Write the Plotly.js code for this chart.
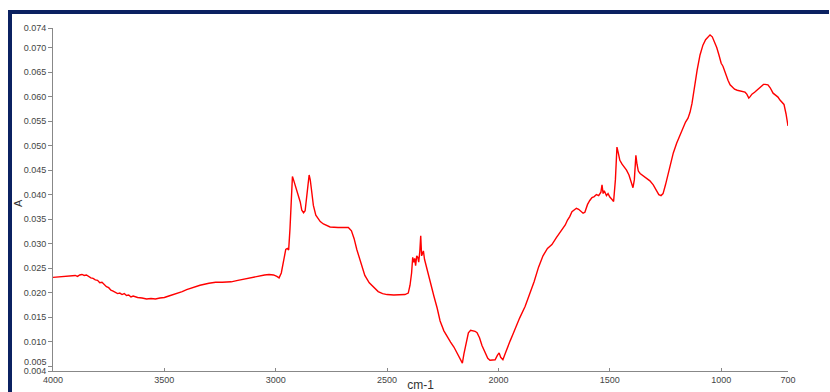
<!DOCTYPE html>
<html>
<head>
<meta charset="utf-8">
<script src="https://cdn.plot.ly/plotly-3.0.1.min.js"></script>
<style>
  html, body { margin: 0; padding: 0; background: #ffffff; }
  #wrap { position: relative; width: 830px; height: 392px; overflow: hidden; }
  #chart { position: absolute; left: 0; top: 0; width: 830px; height: 392px; }
  #frameTop { position: absolute; left: 8px; top: 10px; width: 821px; height: 4px; background: #0b2161; }
  #frameLeft { position: absolute; left: 8px; top: 10px; width: 4px; height: 382px; background: #0b2161; }
</style>
</head>
<body>
<div id="wrap">
  <div id="chart"></div>
  <div id="frameTop"></div>
  <div id="frameLeft"></div>
</div>
<script>
const wavenumber = [
  4000,3980,3960,3940,3920,3900,3890,3880,3870,3860,3850,3840,3830,3820,3810,3800,3790,3780,3770,3760,
  3750,3740,3730,3720,3710,3700,3690,3680,3670,3660,3650,3640,3620,3600,3580,3560,3540,3520,3500,3480,
  3450,3420,3400,3370,3340,3300,3270,3240,3200,3170,3140,3100,3070,3050,3030,3010,2995,2985,2975,2968,
  2960,2955,2948,2942,2936,2930,2925,2920,2913,2905,2898,2890,2883,2875,2868,2861,2855,2850,2845,2840,
  2831,2820,2810,2800,2786,2770,2756,2720,2690,2674,2660,2648,2636,2620,2600,2580,2560,2540,2520,2500,
  2470,2440,2420,2405,2397,2390,2385,2380,2376,2372,2367,2362,2358,2353,2349,2345,2341,2337,2332,2327,
  2320,2313,2303,2290,2275,2262,2245,2230,2215,2200,2186,2175,2168,2162,2155,2145,2135,2125,2115,2105,
  2096,2085,2074,2060,2048,2038,2025,2015,2005,1997,1990,1980,1970,1960,1948,1935,1926,1905,1880,1860,
  1840,1820,1800,1780,1760,1740,1720,1700,1690,1680,1670,1660,1650,1640,1630,1620,1612,1600,1590,1580,
  1570,1560,1550,1540,1535,1530,1525,1515,1508,1500,1490,1483,1475,1468,1462,1455,1445,1437,1425,1414,
  1405,1396,1390,1383,1378,1372,1364,1350,1342,1330,1320,1305,1290,1280,1270,1261,1250,1240,1230,1215,
  1200,1185,1170,1160,1149,1140,1131,1120,1108,1095,1082,1070,1060,1050,1040,1030,1020,1010,1000,992,
  980,969,960,951,940,928,915,900,893,885,876,870,862,850,840,830,820,810,803,790,
  780,767,756,745,736,728,718,709,700
];
const absorbance = [
  0.0231,0.0232,0.0233,0.0233,0.0234,0.0235,0.0233,0.0236,0.0237,0.0235,0.0236,0.0232,0.0230,0.0229,0.0226,0.0225,0.0220,0.0221,0.0216,0.0212,
  0.0210,0.0205,0.0203,0.0200,0.0198,0.0199,0.0196,0.0198,0.0194,0.0195,0.0191,0.0193,0.0190,0.0189,0.0187,0.0188,0.0187,0.0189,0.0190,0.0193,
  0.0197,0.0202,0.0206,0.0211,0.0215,0.0219,0.0221,0.0221,0.0222,0.0225,0.0228,0.0231,0.0234,0.0236,0.0237,0.0236,0.0233,0.0230,0.0240,0.0258,
  0.0275,0.0288,0.0290,0.0287,0.0330,0.0400,0.0437,0.0430,0.0420,0.0410,0.0400,0.0385,0.0368,0.0363,0.0367,0.0390,0.0420,0.0440,0.0430,0.0412,
  0.0378,0.0358,0.0350,0.0345,0.0340,0.0337,0.0334,0.0333,0.0333,0.0333,0.0326,0.0310,0.0288,0.0262,0.0235,0.0220,0.0210,0.0202,0.0198,0.0196,
  0.0195,0.0195,0.0196,0.0199,0.0215,0.0240,0.0272,0.0262,0.0270,0.0255,0.0275,0.0272,0.0262,0.0285,0.0316,0.0275,0.0283,0.0285,0.0268,0.0259,
  0.0242,0.0230,0.0213,0.0193,0.0168,0.0142,0.0122,0.0109,0.0099,0.0089,0.0077,0.0068,0.0062,0.0056,0.0075,0.0100,0.0118,0.0123,0.0122,0.0121,
  0.0118,0.0108,0.0092,0.0078,0.0066,0.0062,0.0062,0.0063,0.0072,0.0077,0.0068,0.0063,0.0075,0.0088,0.0101,0.0115,0.0126,0.0148,0.0172,0.0195,
  0.0222,0.0252,0.0275,0.0290,0.0298,0.0312,0.0325,0.0338,0.0348,0.0355,0.0365,0.0368,0.0372,0.0370,0.0366,0.0362,0.0364,0.0380,0.0388,0.0394,
  0.0396,0.0400,0.0398,0.0405,0.0420,0.0402,0.0408,0.0398,0.0402,0.0395,0.0390,0.0386,0.0430,0.0497,0.0485,0.0470,0.0462,0.0458,0.0450,0.0440,
  0.0425,0.0414,0.0430,0.0480,0.0462,0.0448,0.0443,0.0438,0.0436,0.0432,0.0428,0.0420,0.0408,0.0400,0.0398,0.0402,0.0420,0.0440,0.0460,0.0485,
  0.0505,0.0522,0.0537,0.0548,0.0556,0.0568,0.0586,0.0620,0.0654,0.0685,0.0705,0.0716,0.0722,0.0726,0.0722,0.0712,0.0700,0.0685,0.0668,0.0662,
  0.0645,0.0633,0.0624,0.0619,0.0615,0.0613,0.0611,0.0610,0.0609,0.0605,0.0597,0.0600,0.0605,0.0609,0.0613,0.0616,0.0620,0.0625,0.0625,0.0624,
  0.0618,0.0607,0.0603,0.0599,0.0593,0.0589,0.0584,0.0565,0.0540
];
const xTickVals = [4000, 3500, 3000, 2500, 2000, 1500, 1000, 700];
const xTickText = ["4000", "3500", "3000", "2500", "2000", "1500", "1000", "700"];
const yTickVals = [0.004, 0.005, 0.010, 0.015, 0.020, 0.025, 0.030, 0.035, 0.040, 0.045, 0.050, 0.055, 0.060, 0.065, 0.070, 0.074];
const yTickText = ["0.004", "", "0.010", "0.015", "0.020", "0.025", "0.030", "0.035", "0.040", "0.045", "0.050", "0.055", "0.060", "0.065", "0.070", "0.074"];
const raisedTickValue = 0.005;
const raisedTickText = "0.005";
const yTitleText = "A";

const trace = {
  x: wavenumber,
  y: absorbance,
  type: 'scatter',
  mode: 'lines',
  line: { color: '#ff0000', width: 1.4 },
  hoverinfo: 'x+y'
};

const layout = {
  width: 830,
  height: 392,
  margin: { l: 53, r: 42, t: 28, b: 21, pad: 0 },
  paper_bgcolor: '#ffffff',
  plot_bgcolor: '#ffffff',
  showlegend: false,
  font: { family: 'Liberation Sans, Arial, sans-serif', size: 9, color: '#444444' },
  xaxis: {
    range: [4000, 700],
    autorange: false,
    tickmode: 'array',
    tickvals: xTickVals,
    ticktext: xTickText,
    ticks: 'inside',
    ticklen: 3,
    tickcolor: '#888888',
    showgrid: false,
    zeroline: false,
    showline: true,
    linecolor: '#888888',
    linewidth: 1,
    tickfont: { size: 9, color: '#444444' },
    automargin: false,
    title: { text: 'cm-1', font: { size: 12, color: '#333333' }, standoff: 1 }
  },
  yaxis: {
    range: [0.004, 0.074],
    autorange: false,
    tickmode: 'array',
    tickvals: yTickVals,
    ticktext: yTickText,
    ticks: 'outside',
    ticklen: 4,
    tickcolor: '#888888',
    showgrid: false,
    zeroline: false,
    showline: true,
    linecolor: '#888888',
    linewidth: 1,
    tickfont: { size: 9, color: '#444444' },
    automargin: false
  },
  annotations: [
    {
      text: raisedTickText,
      xref: 'paper', yref: 'y',
      x: 0, y: raisedTickValue,
      xanchor: 'right', yanchor: 'middle',
      xshift: -4, yshift: 4,
      showarrow: false,
      font: { size: 9, color: '#444444' }
    },
    {
      text: yTitleText,
      xref: 'paper', yref: 'paper',
      x: -0.0476, y: 0.49,
      xanchor: 'center', yanchor: 'middle',
      textangle: -90,
      showarrow: false,
      font: { size: 11, color: '#333333' }
    }
  ]
};

Plotly.newPlot('chart', [trace], layout, { displayModeBar: false, staticPlot: true });
</script>
</body>
</html>
